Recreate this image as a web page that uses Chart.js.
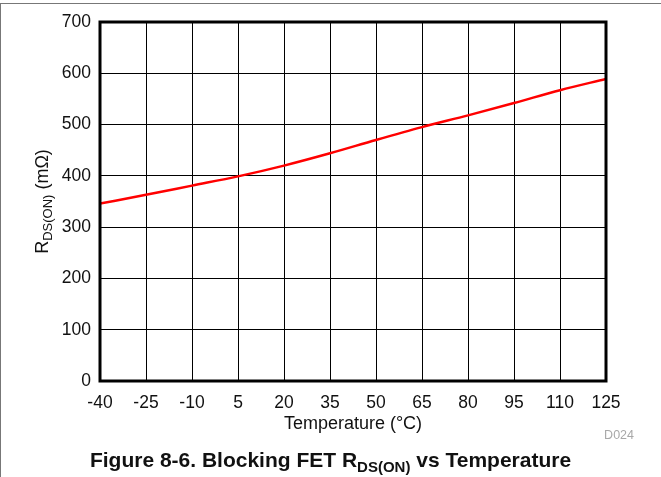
<!DOCTYPE html>
<html lang="en">
<head>
    <meta charset="UTF-8">
    <title>Blocking FET RDS(ON) vs Temperature</title>
    <script src="https://cdn.jsdelivr.net/npm/chart.js"></script>
    <style>
        body {
            margin: 0;
            width: 661px;
            height: 477px;
            overflow: hidden;
            background: white;
            font-family: "Liberation Sans", Arial, sans-serif;
        }
        .frame-top {
            position: absolute;
            left: 0;
            top: 3px;
            width: 661px;
            height: 1px;
            background: #777;
        }
        .frame-left {
            position: absolute;
            left: 0;
            top: 3px;
            width: 1px;
            height: 474px;
            background: #777;
        }
        .chart-box {
            position: absolute;
            left: 0;
            top: 0;
            width: 661px;
            height: 477px;
        }
        .code {
            position: absolute;
            right: 27px;
            top: 428px;
            font-size: 12.5px;
            color: #a8a8a8;
        }
        .caption {
            position: absolute;
            left: 0;
            width: 661px;
            top: 448px;
            line-height: 24px;
            text-align: center;
            font-weight: bold;
            font-size: 21px;
            color: #111;
        }
        .caption sub {
            font-size: 15px;
            vertical-align: -5px;
            line-height: 0;
        }
    </style>
</head>
<body>
    <div class="frame-top"></div>
    <div class="frame-left"></div>
    <div class="chart-box"><canvas id="rdsChart"></canvas></div>
    <div class="code">D024</div>
    <div class="caption">Figure 8-6. Blocking FET R<sub>DS(ON)</sub> vs Temperature</div>
    <script>
        // values
        const temperatures = [-40, -25, -10, 5, 20, 35, 50, 65, 80, 95, 110, 125];
        const rdsOn = [346, 363, 381, 399, 420, 444, 470, 495, 518, 542, 567, 589];
        const yTicks = [0, 100, 200, 300, 400, 500, 600, 700];
        const xTicks = [-40, -25, -10, 5, 20, 35, 50, 65, 80, 95, 110, 125];

        const fontFamily = '"Liberation Sans", Arial, sans-serif';

        // thick frame round the plot plus the axis titles
        const framePlugin = {
            id: 'frame',
            afterDraw(chart) {
                const ctx = chart.ctx;
                const a = chart.chartArea;
                ctx.save();
                ctx.strokeStyle = '#000';
                ctx.lineWidth = 3;
                ctx.strokeRect(a.left, a.top, a.right - a.left, a.bottom - a.top);

                // x title
                ctx.fillStyle = '#111';
                ctx.font = '18px ' + fontFamily;
                ctx.textAlign = 'center';
                ctx.textBaseline = 'alphabetic';
                ctx.fillText('Temperature (\u00B0C)', (a.left + a.right) / 2, 429);

                // y title with subscript
                ctx.translate(48, (a.top + a.bottom) / 2);
                ctx.rotate(-Math.PI / 2);
                ctx.textAlign = 'left';
                const mainFont = '18px ' + fontFamily;
                const subFont = '13px ' + fontFamily;
                ctx.font = mainFont;
                const wR = ctx.measureText('R').width;
                const wTail = ctx.measureText(' (m\u03A9)').width;
                ctx.font = subFont;
                const wSub = ctx.measureText('DS(ON)').width;
                let x = -(wR + wSub + wTail) / 2;
                ctx.font = mainFont;
                ctx.fillText('R', x, 0);
                x += wR;
                ctx.font = subFont;
                ctx.fillText('DS(ON)', x, 4);
                x += wSub;
                ctx.font = mainFont;
                ctx.fillText(' (m\u03A9)', x, 0);
                ctx.restore();
            }
        };

        const ctx = document.getElementById('rdsChart').getContext('2d');
        new Chart(ctx, {
            type: 'line',
            data: {
                datasets: [{
                    data: temperatures.map((t, i) => ({ x: t, y: rdsOn[i] })),
                    borderColor: '#ff0000',
                    borderWidth: 2.5,
                    pointRadius: 0,
                    cubicInterpolationMode: 'monotone',
                    fill: false
                }]
            },
            options: {
                responsive: true,
                maintainAspectRatio: false,
                animation: false,
                layout: {
                    padding: { top: 22, right: 55, left: 0, bottom: 0 }
                },
                plugins: {
                    legend: { display: false },
                    tooltip: { enabled: false }
                },
                scales: {
                    x: {
                        type: 'linear',
                        min: -40,
                        max: 125,
                        afterBuildTicks(scale) {
                            scale.ticks = xTicks.map(v => ({ value: v }));
                        },
                        afterFit(scale) {
                            scale.height = 96;
                        },
                        grid: { color: '#000', lineWidth: 1, drawTicks: false },
                        border: { display: false },
                        ticks: {
                            color: '#111',
                            padding: 12,
                            maxRotation: 0,
                            autoSkip: false,
                            font: { size: 17.5, family: fontFamily }
                        }
                    },
                    y: {
                        min: 0,
                        max: 700,
                        afterBuildTicks(scale) {
                            scale.ticks = yTicks.map(v => ({ value: v }));
                        },
                        afterFit(scale) {
                            scale.width = 100;
                        },
                        grid: { color: '#000', lineWidth: 1, drawTicks: false },
                        border: { display: false },
                        ticks: {
                            color: '#111',
                            padding: 9,
                            font: { size: 17.5, family: fontFamily }
                        }
                    }
                }
            },
            plugins: [framePlugin]
        });
    </script>
</body>
</html>
